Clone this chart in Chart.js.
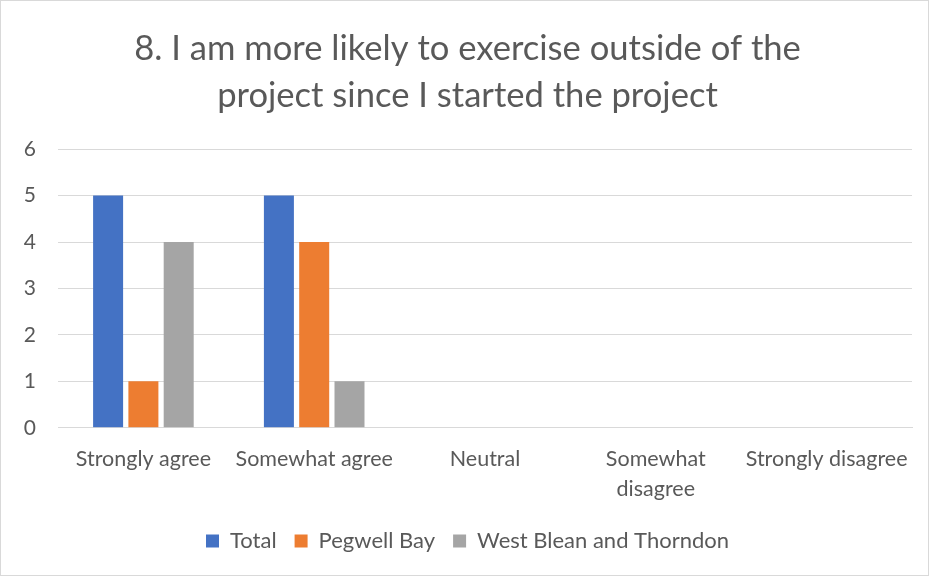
<!DOCTYPE html>
<html>
<head>
<meta charset="utf-8">
<script src="https://cdn.jsdelivr.net/npm/chart.js@4"></script>
<style>
  html, body { margin: 0; padding: 0; background: #fff; }
  #wrap { position: relative; width: 927px; height: 574px; border: 1px solid #d9d9d9; }
</style>
</head>
<body>
<div id="wrap"><canvas id="chart"></canvas></div>
<script>
const categories = ["Strongly agree", "Somewhat agree", "Neutral", ["Somewhat", "disagree"], "Strongly disagree"];
const totalValues = [5, 5, 0, 0, 0];
const pegwellValues = [1, 4, 0, 0, 0];
const westBleanValues = [4, 1, 0, 0, 0];
const yTicks = [0, 1, 2, 3, 4, 5, 6];

const textColor = "#595959";
const fontFamily = "Lato, 'Open Sans', sans-serif";

const ctx = document.getElementById("chart").getContext("2d");
new Chart(ctx, {
  type: "bar",
  data: {
    labels: categories,
    datasets: [
      { label: "Total", data: totalValues, backgroundColor: "#4472C4" },
      { label: "Pegwell Bay", data: pegwellValues, backgroundColor: "#ED7D31" },
      { label: "West Blean and Thorndon", data: westBleanValues, backgroundColor: "#A5A5A5" },
    ],
  },
  options: {
    responsive: true,
    maintainAspectRatio: false,
    animation: false,
    categoryPercentage: 0.62,
    barPercentage: 0.85,
    layout: { padding: { left: 22, right: 16, top: 24, bottom: 13 } },
    plugins: {
      title: {
        display: true,
        text: ["8. I am more likely to exercise outside of the", "project since I started the project"],
        color: textColor,
        font: { family: fontFamily, size: 34.6, weight: "normal", lineHeight: 1.36 },
        padding: { top: 0, bottom: 30 },
      },
      legend: {
        position: "bottom",
        labels: {
          color: textColor,
          font: { family: fontFamily, size: 22 },
          boxWidth: 13,
          boxHeight: 13,
          padding: 18,
        },
      },
      tooltip: { enabled: false },
    },
    scales: {
      x: {
        grid: { display: false },
        border: { color: "#d9d9d9" },
        ticks: {
          color: textColor,
          font: { family: fontFamily, size: 21.5, lineHeight: 1.4 },
          maxRotation: 0,
          autoSkip: false,
          padding: 8,
        },
      },
      y: {
        min: 0,
        max: 6,
        afterBuildTicks: (axis) => { axis.ticks = yTicks.map((v) => ({ value: v })); },
        afterFit: (axis) => { axis.width = 35; },
        grid: { color: "#d9d9d9", drawTicks: false },
        border: { display: false },
        ticks: {
          color: textColor,
          font: { family: fontFamily, size: 21 },
          padding: 22,
        },
      },
    },
  },
});
</script>
</body>
</html>
